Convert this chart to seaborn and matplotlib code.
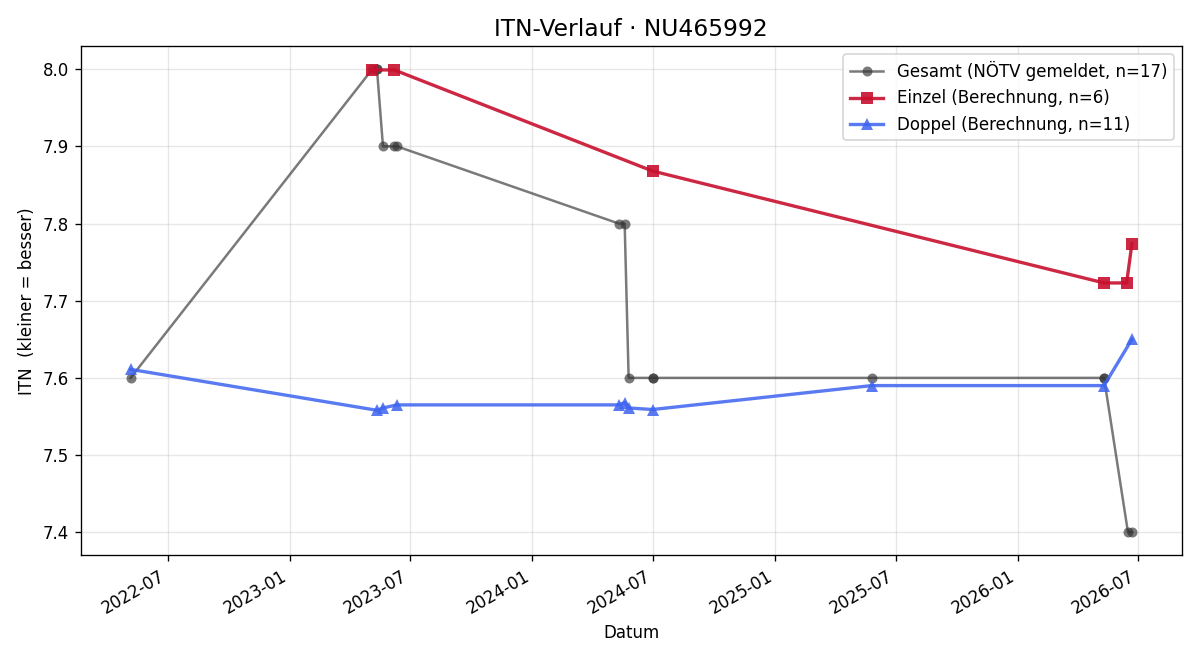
import matplotlib.pyplot as plt
import matplotlib.dates as mdates
import pandas as pd
import seaborn as sns

# ITN history for NU465992
gesamt_dates = ['2022-05-06', '2023-05-05', '2023-05-12', '2023-05-12', '2023-05-21',
                '2023-06-07', '2023-06-11', '2024-05-10', '2024-05-19', '2024-05-25',
                '2024-06-30', '2024-06-30', '2025-05-26', '2026-05-11', '2026-05-11',
                '2026-06-16', '2026-06-22']
gesamt_itn = [7.6, 8.0, 8.0, 8.0, 7.9,
              7.9, 7.9, 7.8, 7.8, 7.6,
              7.6, 7.6, 7.6, 7.6, 7.6,
              7.4, 7.4]

einzel_dates = ['2023-05-05', '2023-06-07', '2024-06-30', '2026-05-11', '2026-06-14', '2026-06-22']
einzel_itn = [7.999, 7.999, 7.868, 7.723, 7.723, 7.774]

doppel_dates = ['2022-05-06', '2023-05-12', '2023-05-21', '2023-06-11', '2024-05-10',
                '2024-05-19', '2024-05-25', '2024-06-30', '2025-05-26', '2026-05-11',
                '2026-06-22']
doppel_itn = [7.611, 7.558, 7.561, 7.565, 7.565,
              7.568, 7.561, 7.559, 7.590, 7.590,
              7.650]

df_g = pd.DataFrame({'Datum': pd.to_datetime(gesamt_dates), 'ITN': gesamt_itn})
df_e = pd.DataFrame({'Datum': pd.to_datetime(einzel_dates), 'ITN': einzel_itn})
df_d = pd.DataFrame({'Datum': pd.to_datetime(doppel_dates), 'ITN': doppel_itn})

fig, ax = plt.subplots(figsize=(10, 5.5), dpi=120)

sns.lineplot(data=df_g, x='Datum', y='ITN', ax=ax, estimator=None, sort=False,
             color='#333333', alpha=0.65, linewidth=1.5, marker='o', markersize=6,
             markeredgewidth=0, label='Gesamt (NÖTV gemeldet, n=17)')
sns.lineplot(data=df_e, x='Datum', y='ITN', ax=ax, estimator=None, sort=False,
             color='#C8102E', alpha=0.9, linewidth=2, marker='s', markersize=7,
             markeredgewidth=0, label='Einzel (Berechnung, n=6)')
sns.lineplot(data=df_d, x='Datum', y='ITN', ax=ax, estimator=None, sort=False,
             color='#3D63F0', alpha=0.85, linewidth=2, marker='^', markersize=7,
             markeredgewidth=0, label='Doppel (Berechnung, n=11)')

ax.set_title('ITN-Verlauf · NU465992', fontsize=14)
ax.set_xlabel('Datum')
ax.set_ylabel('ITN  (kleiner = besser)')
ax.xaxis.set_major_locator(mdates.MonthLocator(bymonth=[1, 7]))
ax.xaxis.set_major_formatter(mdates.DateFormatter('%Y-%m'))
ax.grid(True, alpha=0.3)
ax.legend(loc='upper right')
fig.autofmt_xdate()

plt.tight_layout()
plt.savefig('out.png', dpi=120)
